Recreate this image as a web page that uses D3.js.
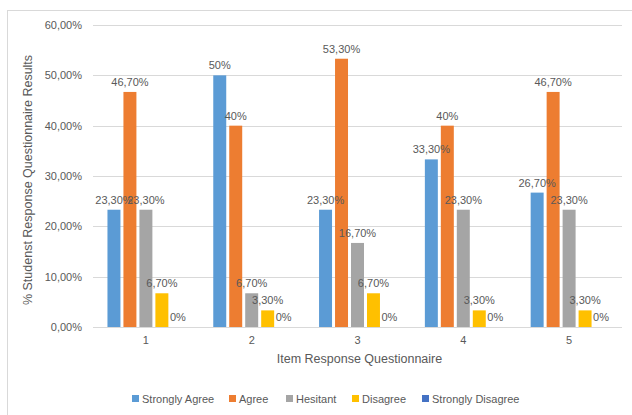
<!DOCTYPE html>
<html>
<head>
<meta charset="utf-8">
<script src="https://cdn.jsdelivr.net/npm/d3@7"></script>
<style>
  body { margin: 0; background: #fff; }
  svg { font-family: "Liberation Sans", "Noto Sans", sans-serif; }
</style>
</head>
<body>
<script>
// categories and series
var categories = ["1", "2", "3", "4", "5"];
var seriesNames = ["Strongly Agree", "Agree", "Hesitant", "Disagree", "Strongly Disagree"];
var stronglyAgree = [23.3, 50, 23.3, 33.3, 26.7];
var agree = [46.7, 40, 53.3, 40, 46.7];
var hesitant = [23.3, 6.7, 16.7, 23.3, 23.3];
var disagree = [6.7, 3.3, 6.7, 3.3, 3.3];
var stronglyDisagree = [0, 0, 0, 0, 0];
var yTicks = [0, 10, 20, 30, 40, 50, 60];
var colors = ["#5B9BD5", "#ED7D31", "#A5A5A5", "#FFC000", "#4472C4"];

var allSeries = [stronglyAgree, agree, hesitant, disagree, stronglyDisagree];

var width = 632, height = 415;
var svg = d3.select("body").append("svg")
    .attr("width", width)
    .attr("height", height);

// chart frame
svg.append("rect")
    .attr("x", 7.5).attr("y", 10.5)
    .attr("width", 640).attr("height", 420)
    .attr("fill", "none")
    .attr("stroke", "#d9d9d9");

var plotLeft = 93, plotRight = 622, plotTop = 25, plotBottom = 327;

var x0 = d3.scaleBand()
    .domain(categories)
    .range([plotLeft, plotRight])
    .paddingInner(0.245)
    .paddingOuter(0.1225);

var x1 = d3.scaleBand()
    .domain(seriesNames)
    .range([0, x0.bandwidth()]);

var y = d3.scaleLinear().domain([0, 60]).range([plotBottom, plotTop]);

// gridlines
svg.append("g").selectAll("line")
    .data(yTicks)
    .enter().append("line")
    .attr("x1", plotLeft).attr("x2", plotRight)
    .attr("y1", function (d) { return Math.round(y(d)) + 0.5; })
    .attr("y2", function (d) { return Math.round(y(d)) + 0.5; })
    .attr("stroke", "#d9d9d9")
    .attr("stroke-width", 1);

// y tick labels
svg.append("g").selectAll("text")
    .data(yTicks)
    .enter().append("text")
    .attr("x", 82)
    .attr("y", function (d) { return y(d); })
    .attr("dy", "0.35em")
    .attr("text-anchor", "end")
    .attr("font-size", 11)
    .attr("fill", "#595959")
    .text(function (d) { return d + ",00%"; });

// x tick labels
svg.append("g").selectAll("text")
    .data(categories)
    .enter().append("text")
    .attr("x", function (d) { return x0(d) + x0.bandwidth() / 2; })
    .attr("y", 344)
    .attr("text-anchor", "middle")
    .attr("font-size", 11)
    .attr("fill", "#595959")
    .text(function (d) { return d; });

function fmt(v) {
    if (v === Math.round(v)) return v + "%";
    return v.toFixed(2).replace(".", ",") + "%";
}

// bars
var groups = svg.append("g").selectAll("g")
    .data(categories)
    .enter().append("g")
    .attr("transform", function (d) { return "translate(" + x0(d) + ",0)"; });

groups.selectAll("rect")
    .data(function (d, i) {
        return seriesNames.map(function (s, k) { return { s: s, k: k, v: allSeries[k][i] }; });
    })
    .enter().append("rect")
    .attr("x", function (d) { return x1(d.s) + 1.5; })
    .attr("width", x1.bandwidth() - 3)
    .attr("y", function (d) { return y(d.v); })
    .attr("height", function (d) { return y(0) - y(d.v); })
    .attr("fill", function (d) { return colors[d.k]; });

// data labels
groups.selectAll("text")
    .data(function (d, i) {
        return seriesNames.map(function (s, k) { return { s: s, k: k, v: allSeries[k][i] }; });
    })
    .enter().append("text")
    .attr("x", function (d) { return x1(d.s) + x1.bandwidth() / 2; })
    .attr("y", function (d) { return y(d.v) - 6; })
    .attr("text-anchor", "middle")
    .attr("font-size", 11)
    .attr("fill", "#595959")
    .text(function (d) { return fmt(d.v); });

// axis titles
svg.append("text")
    .attr("transform", "translate(32," + ((plotTop + plotBottom) / 2 + 4) + ") rotate(-90)")
    .attr("text-anchor", "middle")
    .attr("font-size", 12.5)
    .attr("fill", "#595959")
    .text("% Studenst Response Questionnaire Results");

svg.append("text")
    .attr("x", (plotLeft + plotRight) / 2 + 2)
    .attr("y", 363)
    .attr("text-anchor", "middle")
    .attr("font-size", 12.5)
    .attr("fill", "#595959")
    .text("Item Response Questionnaire");

// legend
var legendX = [132, 229, 286, 352, 422];
var legend = svg.append("g").selectAll("g")
    .data(seriesNames)
    .enter().append("g")
    .attr("transform", function (d, i) { return "translate(" + legendX[i] + ",395)"; });

legend.append("rect")
    .attr("width", 7).attr("height", 7)
    .attr("fill", function (d, i) { return colors[i]; });

legend.append("text")
    .attr("x", 10)
    .attr("y", 7.5)
    .attr("font-size", 11)
    .attr("fill", "#595959")
    .text(function (d) { return d; });
</script>
</body>
</html>
